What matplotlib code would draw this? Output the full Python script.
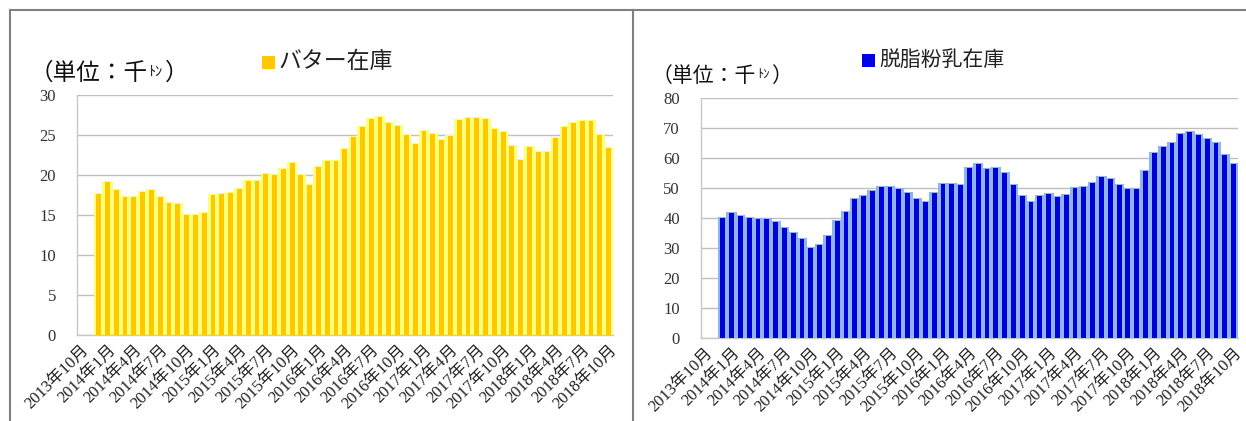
import matplotlib.pyplot as plt
import numpy as np
from matplotlib.lines import Line2D
from matplotlib.patches import Rectangle

# months 2013年10月 .. 2018年10月 (61 categories), first two months have no bar
months = []
for y in range(2013, 2019):
    for m in range(1, 13):
        if (y == 2013 and m < 10) or (y == 2018 and m > 10):
            continue
        months.append(f'{y}年{m}月')

butter = [np.nan, np.nan,
          17.6, 19.1, 18.1, 17.3, 17.2, 17.9, 18.1, 17.2, 16.5, 16.4,
          15.0, 15.0, 15.2, 17.5, 17.6, 17.7, 18.3, 19.3, 19.2, 20.1,
          20.0, 20.8, 21.5, 20.0, 18.8, 21.0, 21.7, 21.8, 23.2, 24.7,
          26.0, 27.0, 27.3, 26.5, 26.1, 25.0, 23.9, 25.5, 25.1, 24.4,
          24.9, 26.9, 27.1, 27.1, 27.0, 25.7, 25.4, 23.6, 21.9, 23.5,
          22.9, 22.9, 24.6, 26.0, 26.5, 26.7, 26.8, 25.0, 23.4]

smp = [np.nan, np.nan,
       40.1, 41.8, 40.7, 39.9, 39.7, 39.6, 38.8, 36.8, 34.9, 33.1,
       30.1, 31.0, 34.1, 39.0, 42.0, 46.2, 47.4, 49.1, 50.3, 50.5,
       49.8, 48.5, 46.2, 45.3, 48.2, 51.3, 51.4, 51.1, 56.6, 58.1,
       56.5, 56.6, 55.2, 50.9, 47.5, 45.5, 47.4, 48.0, 46.9, 47.7,
       50.1, 50.3, 51.6, 53.8, 52.9, 50.9, 49.8, 49.7, 55.8, 61.6,
       63.8, 65.0, 68.1, 68.6, 67.6, 66.5, 65.0, 61.1, 58.2]

W, H = 1246, 421
fig = plt.figure(figsize=(W / 100, H / 100), dpi=100)

serif_jp = ['Liberation Serif', 'Noto Sans CJK JP']
jp = ['Noto Sans CJK JP', 'DejaVu Sans']


def px_axes(x0, y0, x1, y1):
    return fig.add_axes([x0 / W, 1 - y1 / H, (x1 - x0) / W, (y1 - y0) / H])


def draw_panel(ax, values, ymax, ystep, core, glow):
    x = np.arange(len(months))
    ax.bar(x, values, width=0.92, color=glow, edgecolor=glow, linewidth=1.5, zorder=2)
    ax.bar(x, values, width=0.55, color=core, linewidth=0, zorder=3)
    ax.set_xlim(-0.5, len(months) - 0.5)
    ax.set_ylim(0, ymax)
    ax.set_yticks(np.arange(0, ymax + 1, ystep))
    ax.set_xticks(x[::3])
    ax.set_xticklabels(months[::3], rotation=45, ha='right', rotation_mode='anchor',
                       fontsize=12, family=serif_jp, color='#222222')
    ax.set_xticks(np.arange(-0.5, len(months), 3), minor=True)
    ax.tick_params(axis='x', which='major', length=0, pad=5)
    ax.tick_params(axis='x', which='minor', length=3, direction='in', color='#BBBBBB')
    ax.tick_params(axis='y', length=0, pad=15, labelsize=12, labelcolor='#333333')
    for lab in ax.get_yticklabels():
        lab.set_family('Liberation Serif')
    ax.grid(axis='y', color='#BFBFBF', linewidth=1, zorder=0)
    ax.set_axisbelow(True)
    for s in ['top', 'right']:
        ax.spines[s].set_visible(False)
    for s in ['left', 'bottom']:
        ax.spines[s].set_color('#C8C8C8')
        ax.spines[s].set_linewidth(1)


ax1 = px_axes(76.7, 95, 613, 335)
draw_panel(ax1, butter, 30, 5, '#FFC800', '#FFFF78')
ax2 = px_axes(700.7, 98.3, 1238, 337.7)
draw_panel(ax2, smp, 80, 10, '#0000D8', '#8FB4F2')


def unit_label(x, y, size):
    # "（単位：千" + small raised "ﾄﾝ" + "）"
    t = fig.text(x / W, 1 - y / H, '（単位：千', fontsize=size, family=jp,
                 va='baseline', ha='left', color='#111111')
    a = plt.annotate('ﾄﾝ', xy=(1, 0), xycoords=t, xytext=(0.5, size * 0.38),
                     textcoords='offset points', fontsize=size * 0.6, family=jp,
                     va='baseline', ha='left', color='#111111')
    plt.annotate('）', xy=(1, 0), xycoords=(a, t), xytext=(1, 0),
                 textcoords='offset points', fontsize=size, family=jp,
                 va='bottom', ha='left', color='#111111')


unit_label(30, 80, 17)
unit_label(652, 82, 15)


def legend_item(x, y, text, color, size, sq=13):
    fig.patches.append(Rectangle((x / W, 1 - (y + sq / 2) / H), sq / W, sq / H,
                                 transform=fig.transFigure, figure=fig,
                                 facecolor=color, edgecolor='none'))
    fig.text((x + sq + 4) / W, 1 - y / H, text, fontsize=size, family=jp,
             va='center', ha='left', color='#222222')


legend_item(262, 62, 'バター在庫', '#FFC800', 16.5)
legend_item(862, 60, '脱脂粉乳在庫', '#0000E8', 15)

# panel frames
frame = dict(color='#808080', linewidth=1.5, transform=fig.transFigure)
fig.add_artist(Line2D([10 / W, 1], [1 - 10 / H, 1 - 10 / H], **frame))
fig.add_artist(Line2D([10 / W, 10 / W], [0, 1 - 10 / H], **frame))
fig.add_artist(Line2D([633 / W, 633 / W], [0, 1 - 10 / H], **frame))

fig.savefig('out.png', dpi=100)
